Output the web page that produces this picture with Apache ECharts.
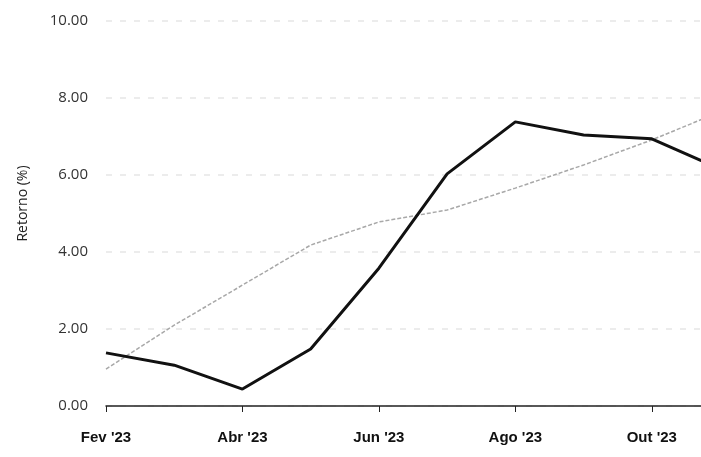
<!DOCTYPE html>
<html><head><meta charset="utf-8">
<script src="https://cdn.jsdelivr.net/npm/echarts@6/dist/echarts.min.js"></script>
<style>html,body{margin:0;padding:0;background:#fff;overflow:hidden;width:701px;height:457px;}#c{width:721px;height:457px;}</style>
</head><body><div id="c"></div>
<script>
var months = ["Fev '23","Mar '23","Abr '23","Mai '23","Jun '23","Jul '23","Ago '23","Set '23","Out '23","Nov '23"];
var portfolio = [1.38, 1.06, 0.44, 1.48, 3.58, 6.03, 7.38, 7.04, 6.94, 6.16];
var benchmark = [0.96, 2.10, 3.14, 4.18, 4.78, 5.09, 5.66, 6.26, 6.91, 7.64];
var yTicks = [0, 2, 4, 6, 8, 10];

var chart = echarts.init(document.getElementById('c'));
chart.setOption({
  animation: false,
  backgroundColor: '#fff',
  grid: {left: 106, right: 1, top: 21, bottom: 51, containLabel: false},
  xAxis: {
    type: 'category', data: months, boundaryGap: false,
    axisLine: {lineStyle: {color: '#222', width: 1.5}},
    axisTick: {interval: 1, length: 6, lineStyle: {color: '#222'}},
    axisLabel: {interval: 1, margin: 24, color: '#111', fontFamily: 'Liberation Sans, Arial', fontSize: 15, fontWeight: 'bold'},
    splitLine: {show: false}
  },
  yAxis: {
    type: 'value', min: yTicks[0], max: yTicks[yTicks.length-1], interval: 2,
    name: 'Retorno (%)', nameLocation: 'middle', nameGap: 76, nameRotate: 90,
    nameTextStyle: {color: '#222', fontFamily: 'Open Sans', fontSize: 14, padding: [0, 0, 0, 20]},
    axisLine: {show: false}, axisTick: {show: false},
    axisLabel: {margin: 18, color: '#333', fontFamily: 'Open Sans', fontSize: 15, formatter: function(v){return v.toFixed(2);}},
    splitLine: {lineStyle: {color: '#e6e6e6', type: [6, 8], width: 1.5}}
  },
  series: [
    {type: 'line', data: benchmark, symbol: 'none', lineStyle: {color: '#a8a8a8', width: 1.5, type: [4, 2]}, z: 2},
    {type: 'line', data: portfolio, symbol: 'none', lineStyle: {color: '#111', width: 3}, z: 3}
  ]
});
</script></body></html>
